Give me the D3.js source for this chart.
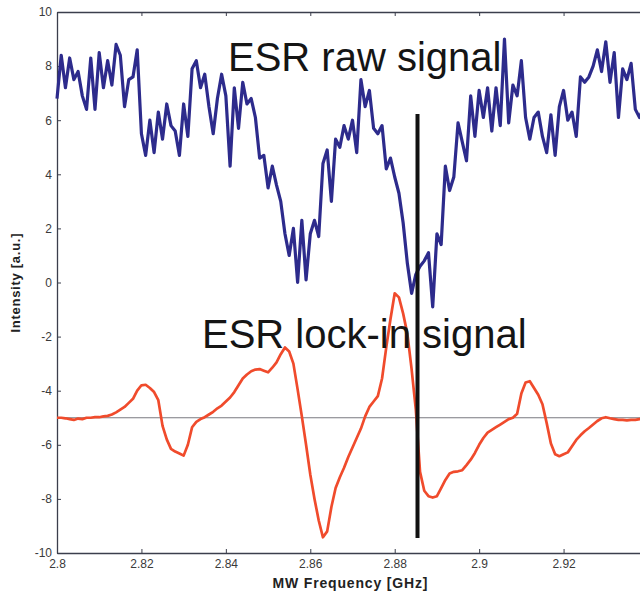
<!DOCTYPE html>
<meta charset="utf-8">
<style>
  body { margin: 0; background: #fff; }
  svg { display: block; font-family: Arial, "Liberation Sans", sans-serif; }
</style>
<svg width="640" height="592"></svg>
<script src="https://cdn.jsdelivr.net/npm/d3@7"></script>
<script>

// frequency grid (GHz), one sample every 1 MHz
var freqStart = 2.800,
    freqStep = 0.001,
    freqCount = 140;

// raw ESR signal (noisy)
var rawSignal = [
  6.8, 8.4, 7.2, 8.3, 7.5, 7.8, 6.9, 6.4, 8.3, 6.4,
  8.5, 7.2, 8.2, 7.3, 8.8, 8.4, 6.5, 7.5, 7.6, 8.6,
  5.5, 4.7, 6.0, 4.8, 6.3, 5.3, 6.6, 5.8, 5.6, 4.7,
  6.6, 5.4, 7.9, 8.2, 7.2, 7.7, 6.5, 5.5, 6.8, 7.7,
  6.9, 4.3, 7.2, 5.7, 7.4, 6.6, 6.8, 6.1, 4.6, 4.7,
  3.5, 4.3, 3.6, 3.0, 1.8, 1.0, 2.0, 0.0, 2.3, 0.1,
  1.8, 2.3, 1.7, 4.4, 4.9, 3.0, 5.3, 5.0, 5.8, 5.3,
  6.0, 4.8, 7.5, 6.5, 7.1, 5.7, 5.5, 5.8, 4.2, 4.6,
  3.9, 3.3, 2.2, 0.7, -0.4, 0.3, 0.6, 0.8, 1.1, -0.9,
  1.8, 1.4, 4.3, 3.4, 3.9, 5.9, 5.2, 4.5, 6.9, 5.4,
  7.1, 6.1, 7.2, 5.6, 7.2, 5.8, 9.0, 5.9, 7.3, 6.9,
  8.2, 6.1, 5.3, 6.1, 6.3, 5.4, 4.8, 6.2, 4.7, 6.5,
  7.1, 6.0, 6.3, 5.4, 7.6, 7.4, 7.6, 8.0, 8.6, 7.8,
  8.9, 7.4, 8.5, 6.1, 7.9, 7.5, 8.1, 6.4, 6.1, 6.5
];

// lock-in signal
var lockinSignal = [
  -5.0, -5.0, -5.02, -5.05, -5.08, -5.03, -5.05, -5.0, -5.0, -4.98,
  -4.98, -4.95, -4.93, -4.88, -4.8, -4.7, -4.6, -4.45, -4.3, -4.0,
  -3.8, -3.78, -3.9, -4.05, -4.35, -5.3, -5.8, -6.15, -6.25, -6.32,
  -6.4, -6.0, -5.35, -5.15, -5.05, -4.98, -4.88, -4.78, -4.65, -4.55,
  -4.4, -4.25, -4.05, -3.8, -3.55, -3.4, -3.28, -3.22, -3.2, -3.26,
  -3.32, -3.15, -2.95, -2.65, -2.4, -2.55, -3.0, -3.95, -4.95, -6.0,
  -7.1, -8.0, -8.8, -9.42, -9.2, -8.3, -7.6, -7.2, -6.85, -6.45,
  -6.1, -5.75, -5.4, -4.95, -4.6, -4.4, -4.2, -3.55, -2.4, -1.35,
  -0.4, -0.55, -1.15, -1.9, -3.2, -4.7, -7.0, -7.7, -7.9, -7.95,
  -7.9, -7.6, -7.3, -7.06, -7.0, -6.98, -6.94, -6.75, -6.55, -6.3,
  -6.0, -5.75, -5.55, -5.45, -5.35, -5.25, -5.15, -5.05, -5.0, -4.85,
  -4.1, -3.7, -3.65, -3.9, -4.15, -4.5, -5.2, -5.95, -6.35, -6.42,
  -6.35, -6.28, -6.05, -5.82, -5.65, -5.5, -5.38, -5.25, -5.12, -5.02,
  -4.98, -5.02, -5.05, -5.08, -5.08, -5.1, -5.08, -5.08, -5.05, -5.05
];

var xTicks = [2.8, 2.82, 2.84, 2.86, 2.88, 2.9, 2.92];
var yTicks = [-10, -8, -6, -4, -2, 0, 2, 4, 6, 8, 10];

var baselineLevel = -5;
var markerFreq = 2.8854,
    markerRange = [6.23, -9.45];

var svg = d3.select("svg");

var x = d3.scaleLinear().domain([2.8, 2.94]).range([57, 648]);
var y = d3.scaleLinear().domain([-10, 10]).range([553, 12]);

var freqs = d3.range(freqCount).map(function(i) { return freqStart + i * freqStep; });

// axes (ticks pointing inward like matlab)
function styleAxis(g) {
  g.select(".domain").attr("stroke", "#3b3e4c").attr("stroke-width", 1.3);
  g.selectAll(".tick line").attr("stroke", "#3b3e4c");
  g.selectAll(".tick text").attr("fill", "#3a3a3a").style("font-size", "12px");
}

svg.append("g")
    .attr("transform", "translate(0," + y(-10) + ")")
    .call(d3.axisBottom(x).tickValues(xTicks).tickFormat(String)
      .tickSizeInner(-4).tickSizeOuter(0).tickPadding(6))
    .call(styleAxis);

svg.append("g")
    .attr("transform", "translate(0," + y(10) + ")")
    .call(d3.axisTop(x).tickValues(xTicks).tickFormat("")
      .tickSizeInner(-4).tickSizeOuter(0))
    .call(styleAxis);

svg.append("g")
    .attr("transform", "translate(" + x(2.8) + ",0)")
    .call(d3.axisLeft(y).tickValues(yTicks).tickFormat(String)
      .tickSizeInner(-4).tickSizeOuter(0).tickPadding(5))
    .call(styleAxis);

// zero line of the lock-in trace
svg.append("line")
    .attr("x1", x(2.8)).attr("x2", 640)
    .attr("y1", y(baselineLevel)).attr("y2", y(baselineLevel))
    .attr("stroke", "#7a7a80")
    .attr("stroke-width", 1);

var line = d3.line()
    .x(function(d, i) { return x(freqs[i]); })
    .y(function(d) { return y(d); });

svg.append("path")
    .datum(rawSignal)
    .attr("d", line)
    .attr("fill", "none")
    .attr("stroke", "#2d2b8c")
    .attr("stroke-width", 3.2)
    .attr("stroke-linejoin", "round");

svg.append("path")
    .datum(lockinSignal)
    .attr("d", line)
    .attr("fill", "none")
    .attr("stroke", "#f04b2c")
    .attr("stroke-width", 2.7)
    .attr("stroke-linejoin", "round");

// labels
svg.append("text")
    .attr("x", 228).attr("y", 71)
    .style("font-size", "40px")
    .attr("fill", "#151515")
    .text("ESR raw signal");

svg.append("text")
    .attr("x", 202).attr("y", 348)
    .style("font-size", "40px")
    .attr("fill", "#151515")
    .text("ESR lock-in signal");

// resonance marker
svg.append("line")
    .attr("x1", x(markerFreq)).attr("x2", x(markerFreq))
    .attr("y1", y(markerRange[0])).attr("y2", y(markerRange[1]))
    .attr("stroke", "#111")
    .attr("stroke-width", 4);

svg.append("text")
    .attr("x", 350).attr("y", 588)
    .attr("text-anchor", "middle")
    .attr("textLength", 155)
    .style("font-size", "14px")
    .style("font-weight", "bold")
    .attr("fill", "#222")
    .text("MW Frequency [GHz]");

svg.append("text")
    .attr("transform", "translate(20,283) rotate(-90)")
    .attr("text-anchor", "middle")
    .attr("textLength", 99)
    .style("font-size", "13px")
    .style("font-weight", "bold")
    .attr("fill", "#222")
    .text("Intensity [a.u.]");

</script>
